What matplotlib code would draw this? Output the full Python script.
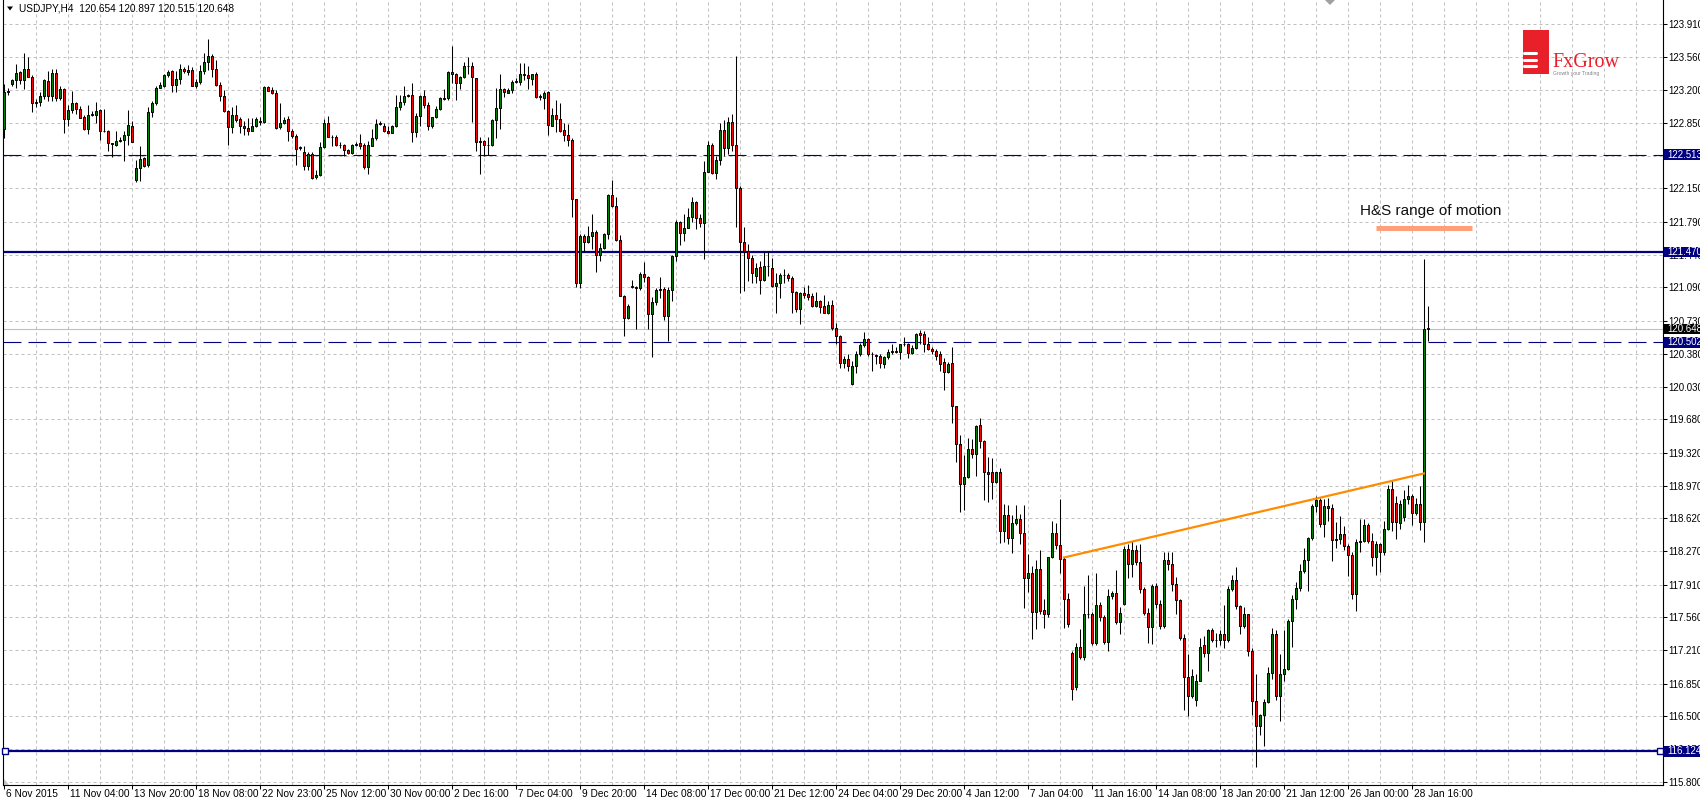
import matplotlib
matplotlib.use("Agg")
import matplotlib.pyplot as plt
import matplotlib.transforms as mtransforms
from matplotlib.patches import Rectangle, Polygon
from matplotlib.lines import Line2D
import numpy as np

# USDJPY H4 candles, one value per bar
opens = [
    122.79, 123.18, 123.27, 123.31, 123.40, 123.31, 123.43, 123.34, 123.06, 123.07,  # 0
    123.14, 123.30, 123.14, 123.39, 123.12, 123.21, 122.89, 122.99, 123.06, 123.00,  # 10
    122.92, 122.79, 122.94, 122.94, 122.99, 122.76, 122.76, 122.64, 122.62, 122.66,  # 20
    122.67, 122.72, 122.82, 122.24, 122.37, 122.48, 122.40, 122.97, 123.06, 123.22,  # 30
    123.25, 123.36, 123.41, 123.26, 123.32, 123.43, 123.42, 123.42, 123.25, 123.29,  # 40
    123.41, 123.50, 123.57, 123.43, 123.26, 123.14, 122.98, 122.81, 122.94, 122.89,  # 50
    122.82, 122.80, 122.77, 122.82, 122.87, 122.86, 123.24, 123.20, 123.17, 122.81,  # 60
    122.85, 122.89, 122.76, 122.71, 122.58, 122.54, 122.39, 122.52, 122.27, 122.29,  # 70
    122.59, 122.85, 122.70, 122.70, 122.61, 122.61, 122.56, 122.53, 122.61, 122.64,  # 80
    122.61, 122.38, 122.60, 122.69, 122.84, 122.82, 122.77, 122.74, 122.82, 123.02,  # 90
    123.07, 123.14, 123.15, 122.75, 122.93, 123.14, 123.04, 122.82, 122.91, 123.00,  # 100
    123.11, 123.12, 123.40, 123.38, 123.28, 123.34, 123.46, 123.46, 123.33, 122.66,  # 110
    122.66, 122.61, 122.61, 122.88, 123.01, 123.21, 123.17, 123.20, 123.29, 123.29,  # 120
    123.38, 123.36, 123.32, 123.38, 123.13, 123.12, 123.18, 122.82, 122.94, 122.89,  # 130
    122.78, 122.72, 122.67, 122.04, 121.14, 121.64, 121.58, 121.64, 121.68, 121.44,  # 140
    121.51, 121.66, 122.08, 121.96, 121.60, 121.00, 120.76, 121.11, 121.09, 121.08,  # 150
    121.23, 121.20, 120.81, 120.93, 121.06, 121.07, 120.79, 121.06, 121.43, 121.79,  # 160
    121.67, 121.73, 121.84, 122.00, 121.83, 121.78, 122.33, 122.62, 122.31, 122.45,  # 170
    122.78, 122.58, 122.86, 122.62, 122.15, 121.58, 121.48, 121.41, 121.21, 121.31,  # 180
    121.17, 121.32, 121.30, 121.11, 121.14, 121.22, 121.22, 121.19, 121.04, 120.86,  # 190
    121.03, 121.02, 121.00, 120.89, 120.95, 120.89, 120.82, 120.90, 120.66, 120.57,  # 200
    120.28, 120.32, 120.06, 120.25, 120.38, 120.47, 120.54, 120.38, 120.37, 120.36,  # 210
    120.27, 120.35, 120.40, 120.41, 120.40, 120.48, 120.49, 120.39, 120.44, 120.60,  # 220
    120.59, 120.49, 120.43, 120.41, 120.38, 120.29, 120.19, 120.28, 119.82, 119.41,  # 230
    118.99, 119.06, 119.36, 119.31, 119.62, 119.45, 119.11, 119.11, 119.01, 119.11,  # 240
    118.48, 118.66, 118.41, 118.57, 118.61, 118.46, 117.98, 118.03, 117.62, 118.08,  # 250
    117.64, 117.59, 118.21, 118.46, 118.33, 118.18, 117.76, 117.18, 116.81, 117.24,  # 260
    117.13, 117.59, 117.60, 117.28, 117.69, 117.56, 117.30, 117.79, 117.82, 117.51,  # 270
    117.70, 118.29, 118.13, 118.28, 118.15, 117.86, 117.61, 117.46, 117.90, 117.70,  # 280
    117.47, 118.17, 118.13, 117.92, 117.75, 117.34, 116.92, 116.72, 116.68, 116.88,  # 290
    117.26, 117.18, 117.42, 117.32, 117.32, 117.38, 117.32, 117.86, 117.96, 117.68,  # 300
    117.47, 117.60, 117.20, 116.66, 116.40, 116.51, 116.65, 116.96, 117.38, 116.72,  # 310
    116.95, 117.01, 117.52, 117.76, 117.87, 118.06, 118.17, 118.41, 118.75, 118.82,  # 320
    118.56, 118.75, 118.73, 118.39, 118.40, 118.45, 118.32, 118.23, 117.81, 118.37,  # 330
    118.38, 118.55, 118.38, 118.21, 118.34, 118.26, 118.50, 118.93, 118.78, 118.57,  # 340
    118.63, 118.83, 118.86, 118.68, 118.77, 118.58, 120.654,                         # 350
]
highs = [
    123.27, 123.22, 123.32, 123.48, 123.41, 123.60, 123.56, 123.36, 123.11, 123.18,
    123.32, 123.41, 123.43, 123.43, 123.25, 123.22, 123.04, 123.19, 123.08, 123.03,
    122.94, 123.04, 122.98, 123.08, 123.00, 123.00, 122.78, 122.64, 122.76, 122.70,
    122.77, 122.99, 122.87, 122.45, 122.60, 122.49, 123.02, 123.09, 123.25, 123.29,
    123.38, 123.42, 123.42, 123.41, 123.48, 123.45, 123.47, 123.45, 123.32, 123.47,
    123.60, 123.75, 123.59, 123.52, 123.29, 123.20, 122.99, 123.02, 123.04, 122.92,
    122.87, 122.90, 122.90, 122.91, 122.91, 123.25, 123.25, 123.24, 123.20, 123.06,
    122.92, 122.93, 122.79, 122.73, 122.60, 122.60, 122.54, 122.54, 122.35, 122.65,
    122.89, 122.93, 122.72, 122.72, 122.65, 122.63, 122.57, 122.63, 122.65, 122.73,
    122.64, 122.66, 122.79, 122.89, 122.87, 122.85, 122.82, 122.83, 123.15, 123.15,
    123.25, 123.16, 123.28, 122.96, 123.15, 123.20, 123.08, 122.92, 123.03, 123.13,
    123.21, 123.41, 123.67, 123.39, 123.35, 123.50, 123.56, 123.50, 123.33, 122.70,
    122.67, 122.70, 122.89, 123.22, 123.38, 123.23, 123.22, 123.31, 123.33, 123.49,
    123.49, 123.46, 123.38, 123.40, 123.16, 123.19, 123.19, 123.01, 123.10, 123.06,
    122.85, 122.84, 122.69, 122.04, 121.66, 121.66, 121.75, 121.88, 121.70, 121.57,
    121.67, 122.09, 122.24, 122.06, 121.65, 121.01, 120.91, 121.17, 121.11, 121.26,
    121.36, 121.21, 120.99, 121.08, 121.20, 121.10, 121.09, 121.44, 121.81, 121.80,
    121.88, 121.94, 122.06, 122.02, 121.88, 122.44, 122.66, 122.64, 122.50, 122.85,
    122.88, 122.92, 122.95, 123.57, 122.18, 121.74, 121.56, 121.44, 121.35, 121.37,
    121.48, 121.48, 121.41, 121.25, 121.25, 121.29, 121.25, 121.21, 121.05, 121.04,
    121.09, 121.12, 121.03, 121.04, 120.96, 121.01, 120.94, 120.96, 120.71, 120.58,
    120.36, 120.38, 120.30, 120.41, 120.50, 120.61, 120.55, 120.40, 120.38, 120.38,
    120.36, 120.43, 120.49, 120.45, 120.49, 120.56, 120.50, 120.47, 120.60, 120.64,
    120.62, 120.56, 120.45, 120.43, 120.41, 120.34, 120.29, 120.45, 119.82, 119.51,
    119.30, 119.48, 119.47, 119.62, 119.69, 119.46, 119.28, 119.27, 119.12, 119.16,
    118.77, 118.76, 118.66, 118.76, 118.67, 118.76, 118.24, 118.11, 118.17, 118.28,
    117.76, 118.21, 118.59, 118.57, 118.83, 118.20, 117.82, 117.20, 117.29, 117.44,
    117.90, 118.01, 117.62, 118.03, 117.72, 117.58, 117.86, 117.84, 118.07, 117.67,
    118.32, 118.34, 118.38, 118.33, 118.34, 117.88, 117.66, 117.92, 117.93, 117.74,
    118.26, 118.26, 118.26, 117.99, 117.76, 117.38, 117.17, 117.01, 116.95, 117.34,
    117.36, 117.44, 117.45, 117.39, 117.42, 117.69, 117.90, 118.01, 118.10, 117.69,
    117.67, 117.60, 117.23, 116.95, 116.53, 116.69, 117.03, 117.45, 117.42, 117.17,
    117.42, 117.54, 117.80, 117.94, 118.13, 118.30, 118.42, 118.77, 118.86, 118.84,
    118.83, 118.84, 118.77, 118.58, 118.64, 118.54, 118.34, 118.26, 118.40, 118.61,
    118.61, 118.57, 118.46, 118.38, 118.36, 118.59, 118.98, 119.03, 118.86, 118.82,
    118.92, 118.98, 118.88, 118.84, 118.96, 121.40, 120.897,
]
lows = [
    122.69, 123.15, 123.25, 123.22, 123.27, 123.21, 123.34, 122.97, 123.02, 123.03,
    123.11, 123.09, 123.09, 123.09, 123.10, 122.74, 122.82, 122.96, 122.95, 122.90,
    122.78, 122.73, 122.93, 122.85, 122.67, 122.75, 122.55, 122.49, 122.60, 122.65,
    122.44, 122.61, 122.65, 122.22, 122.23, 122.38, 122.38, 122.91, 123.04, 123.22,
    123.24, 123.34, 123.18, 123.18, 123.27, 123.39, 123.36, 123.25, 123.22, 123.27,
    123.38, 123.42, 123.34, 123.25, 123.09, 122.97, 122.61, 122.74, 122.86, 122.74,
    122.72, 122.72, 122.76, 122.81, 122.83, 122.85, 123.19, 123.16, 122.79, 122.79,
    122.84, 122.66, 122.69, 122.40, 122.56, 122.35, 122.35, 122.25, 122.25, 122.28,
    122.58, 122.70, 122.60, 122.60, 122.58, 122.50, 122.52, 122.52, 122.60, 122.57,
    122.36, 122.30, 122.60, 122.67, 122.83, 122.75, 122.73, 122.74, 122.81, 122.99,
    123.04, 123.13, 122.65, 122.70, 122.82, 123.01, 122.78, 122.80, 122.90, 122.99,
    123.10, 123.10, 123.28, 123.10, 123.21, 123.33, 123.37, 122.86, 122.55, 122.30,
    122.50, 122.51, 122.60, 122.69, 122.79, 123.13, 123.17, 123.17, 123.28, 123.26,
    123.31, 123.21, 123.26, 123.12, 123.10, 123.00, 122.72, 122.82, 122.75, 122.75,
    122.66, 122.60, 121.84, 121.10, 121.08, 121.47, 121.57, 121.50, 121.26, 121.37,
    121.50, 121.61, 121.95, 121.59, 121.00, 120.57, 120.75, 121.08, 120.65, 121.06,
    121.15, 120.65, 120.35, 120.90, 120.98, 120.74, 120.52, 120.94, 121.37, 121.55,
    121.59, 121.73, 121.79, 121.72, 121.74, 121.40, 122.33, 122.30, 122.25, 122.40,
    122.50, 122.52, 122.55, 121.74, 121.03, 121.05, 121.16, 121.14, 121.14, 121.02,
    121.16, 121.21, 121.09, 120.82, 120.98, 121.14, 121.16, 120.82, 120.83, 120.70,
    120.98, 120.96, 120.88, 120.88, 120.82, 120.82, 120.81, 120.63, 120.48, 120.23,
    120.23, 120.20, 120.05, 120.17, 120.36, 120.45, 120.36, 120.20, 120.27, 120.23,
    120.23, 120.32, 120.38, 120.39, 120.32, 120.46, 120.34, 120.38, 120.43, 120.48,
    120.40, 120.42, 120.38, 120.31, 120.20, 119.99, 120.18, 119.64, 119.22, 118.69,
    118.71, 119.05, 119.27, 119.07, 119.37, 118.82, 118.79, 118.83, 119.00, 118.36,
    118.37, 118.34, 118.25, 118.55, 118.34, 117.66, 117.83, 117.33, 117.43, 117.59,
    117.45, 117.56, 118.19, 118.29, 118.03, 117.45, 117.46, 116.68, 116.78, 117.11,
    117.10, 117.55, 117.26, 117.26, 117.52, 117.27, 117.20, 117.76, 117.49, 117.38,
    117.69, 117.98, 117.99, 118.12, 117.82, 117.58, 117.28, 117.27, 117.66, 117.44,
    117.45, 118.07, 117.84, 117.59, 117.32, 116.57, 116.50, 116.70, 116.61, 116.88,
    117.13, 116.99, 117.30, 117.24, 117.26, 117.23, 117.30, 117.84, 117.65, 117.38,
    117.45, 117.15, 116.51, 115.96, 116.30, 116.18, 116.64, 116.90, 116.68, 116.45,
    116.88, 117.00, 117.24, 117.65, 117.84, 118.03, 117.84, 118.39, 118.69, 118.53,
    118.42, 118.59, 118.16, 118.30, 118.34, 118.28, 118.00, 117.76, 117.63, 118.26,
    118.37, 118.36, 118.11, 118.01, 118.05, 118.23, 118.49, 118.48, 118.40, 118.51,
    118.59, 118.77, 118.55, 118.65, 118.49, 118.37, 120.515,
]
closes = [
    123.18, 123.19, 123.31, 123.39, 123.31, 123.43, 123.34, 123.06, 123.08, 123.14,
    123.31, 123.14, 123.39, 123.12, 123.21, 122.89, 122.99, 123.06, 123.00, 122.90,
    122.79, 122.94, 122.95, 122.98, 122.76, 122.77, 122.64, 122.63, 122.66, 122.67,
    122.72, 122.83, 122.65, 122.37, 122.47, 122.39, 122.97, 123.06, 123.22, 123.26,
    123.36, 123.40, 123.26, 123.32, 123.43, 123.41, 123.40, 123.25, 123.29, 123.41,
    123.50, 123.57, 123.43, 123.26, 123.14, 122.98, 122.81, 122.94, 122.88, 122.82,
    122.80, 122.77, 122.82, 122.89, 122.86, 123.24, 123.19, 123.17, 122.80, 122.85,
    122.88, 122.76, 122.71, 122.57, 122.59, 122.39, 122.52, 122.26, 122.29, 122.59,
    122.85, 122.70, 122.70, 122.61, 122.62, 122.56, 122.53, 122.61, 122.63, 122.60,
    122.38, 122.61, 122.69, 122.84, 122.85, 122.76, 122.74, 122.82, 123.02, 123.08,
    123.14, 123.15, 122.75, 122.93, 123.14, 123.04, 122.82, 122.91, 123.00, 123.12,
    123.12, 123.40, 123.38, 123.28, 123.34, 123.46, 123.46, 123.34, 122.65, 122.65,
    122.61, 122.61, 122.88, 123.01, 123.21, 123.18, 123.20, 123.29, 123.30, 123.38,
    123.36, 123.33, 123.37, 123.13, 123.14, 123.17, 122.83, 122.94, 122.89, 122.77,
    122.72, 122.67, 122.04, 121.14, 121.64, 121.58, 121.64, 121.68, 121.44, 121.51,
    121.66, 122.08, 121.96, 121.60, 121.00, 120.76, 120.89, 121.09, 121.08, 121.23,
    121.20, 120.81, 120.93, 121.06, 121.07, 120.79, 121.06, 121.43, 121.79, 121.67,
    121.73, 121.84, 122.00, 121.83, 121.78, 122.33, 122.62, 122.31, 122.45, 122.78,
    122.58, 122.86, 122.62, 122.15, 121.58, 121.48, 121.41, 121.24, 121.30, 121.17,
    121.32, 121.32, 121.11, 121.14, 121.22, 121.22, 121.19, 121.04, 120.86, 121.03,
    121.01, 120.99, 120.89, 120.95, 120.88, 120.82, 120.90, 120.66, 120.57, 120.28,
    120.32, 120.25, 120.25, 120.38, 120.47, 120.54, 120.38, 120.38, 120.36, 120.28,
    120.35, 120.40, 120.41, 120.40, 120.48, 120.49, 120.39, 120.44, 120.59, 120.58,
    120.49, 120.43, 120.41, 120.36, 120.27, 120.19, 120.27, 119.82, 119.41, 118.99,
    119.06, 119.36, 119.31, 119.61, 119.45, 119.11, 119.09, 119.01, 119.11, 118.48,
    118.66, 118.41, 118.57, 118.61, 118.46, 117.98, 118.03, 117.62, 118.08, 117.63,
    117.59, 118.21, 118.46, 118.33, 118.18, 117.76, 117.49, 116.79, 117.24, 117.13,
    117.59, 117.60, 117.28, 117.69, 117.56, 117.30, 117.79, 117.82, 117.51, 117.61,
    118.29, 118.13, 118.28, 118.15, 117.86, 117.61, 117.46, 117.90, 117.70, 117.47,
    118.17, 118.13, 117.92, 117.74, 117.34, 116.92, 116.72, 116.93, 116.88, 117.24,
    117.18, 117.42, 117.32, 117.32, 117.38, 117.32, 117.86, 117.96, 117.68, 117.47,
    117.60, 117.20, 116.66, 116.40, 116.51, 116.65, 116.96, 117.38, 116.72, 116.95,
    117.01, 117.52, 117.76, 117.87, 118.06, 118.17, 118.41, 118.75, 118.82, 118.56,
    118.75, 118.73, 118.39, 118.40, 118.45, 118.32, 118.23, 117.81, 118.37, 118.38,
    118.55, 118.38, 118.21, 118.34, 118.26, 118.50, 118.93, 118.58, 118.58, 118.77,
    118.83, 118.86, 118.68, 118.77, 118.58, 120.65, 120.648,
]

time_labels = ["6 Nov 2015", "11 Nov 04:00", "13 Nov 20:00", "18 Nov 08:00", "22 Nov 23:00",
               "25 Nov 12:00", "30 Nov 00:00", "2 Dec 16:00", "7 Dec 04:00", "9 Dec 20:00",
               "14 Dec 08:00", "17 Dec 00:00", "21 Dec 12:00", "24 Dec 04:00", "29 Dec 20:00",
               "4 Jan 12:00", "7 Jan 04:00", "11 Jan 16:00", "14 Jan 08:00", "18 Jan 20:00",
               "21 Jan 12:00", "26 Jan 00:00", "28 Jan 16:00"]
price_ticks = [123.910, 123.560, 123.200, 122.850, 122.500, 122.150, 121.790, 121.440,
               121.090, 120.730, 120.380, 120.030, 119.680, 119.320, 118.970, 118.620,
               118.270, 117.910, 117.560, 117.210, 116.850, 116.500, 116.150, 115.800]

dashed_levels = [122.513, 120.502]
solid_levels = [121.470, 116.124]
bid_price = 120.648
neckline_bars = [265, 355]
neckline_prices = [118.20, 119.10]
target_bars = [343, 367]
target_price = 121.73

NAVY = "#000080"
GRID = "#c0c0c0"

plt.rcParams['font.family'] = ['Liberation Sans', 'DejaVu Sans']

W, H = 1700, 800


def fx(px):
    return px / W


def fy(py):
    return 1 - py / H


fig = plt.figure(figsize=(W / 100, H / 100), dpi=100)
ax = fig.add_axes([fx(3), 15 / H, 1660 / W, 785 / H])
ax.set_xlim(-0.25, 414.75)
ax.set_ylim(115.765, 124.167)

# grid (MT4 style: light gray dots)
for v in price_ticks:
    ax.axhline(v, color=GRID, lw=0.72, dashes=(3.0, 3.0), zorder=0)
for b in range(8, 415, 8):
    ax.axvline(b, color=GRID, lw=0.72, dashes=(3.0, 3.0), zorder=0)

# candles
o = np.array(opens)
h = np.array(highs)
l = np.array(lows)
c = np.array(closes)
x = np.arange(len(c))
colors = np.where(c >= o, "#008000", "#ff0000")
ax.vlines(x, l, h, color="black", lw=0.75, zorder=3)
ax.bar(x, np.abs(c - o), bottom=np.minimum(o, c), width=0.55, color=colors,
       edgecolor="black", linewidth=0.7, zorder=4)

# horizontal levels
for v in dashed_levels:
    ax.axhline(v, color=NAVY, lw=0.8, dashes=(16.2, 6.3), zorder=2)
for v in solid_levels:
    ax.axhline(v, color=NAVY, lw=1.6, zorder=2)
ax.axhline(bid_price, color=GRID, lw=0.8, zorder=1)
ax.plot([0.3, 414.0], [solid_levels[1]] * 2, ls="none", marker="s", ms=4,
        mfc="white", mec=NAVY, mew=1.0, zorder=5, clip_on=False)

# neckline + target
ax.plot(neckline_bars, neckline_prices, color="#ff8c00", lw=1.6, zorder=5)
ax.plot(target_bars, [target_price] * 2, color="#ffa07a", lw=3.6,
        solid_capstyle="butt", zorder=5)
ax.text(339, 121.91, "H&S range of motion", fontsize=11, va="center", ha="left",
        color="#101010", zorder=6)

# axes styling
ax.spines["top"].set_visible(False)
for s in ["left", "right", "bottom"]:
    ax.spines[s].set_linewidth(0.8)
ax.yaxis.tick_right()
ax.set_yticks(price_ticks)
ax.set_yticklabels([f"{v:.3f}" for v in price_ticks])
ax.tick_params(axis="y", direction="out", length=3, width=0.75, pad=1.0, labelsize=7)
ax.set_xticks(np.arange(len(time_labels)) * 16)
ax.set_xticklabels(time_labels)
ax.tick_params(axis="x", direction="out", length=2.6, width=0.75, pad=0.6, labelsize=7.3)
shift = mtransforms.ScaledTranslation(1.5 / 100, 0, fig.dpi_scale_trans)
for lbl in ax.get_xticklabels():
    lbl.set_horizontalalignment("left")
    lbl.set_transform(lbl.get_transform() + shift)

# price labels on the right scale
tr = mtransforms.blended_transform_factory(ax.transAxes, ax.transData)
boxed = [(dashed_levels[0], NAVY), (solid_levels[0], NAVY), (bid_price, "black"),
         (dashed_levels[1], NAVY), (solid_levels[1], NAVY)]
for v, col in boxed:
    ax.add_patch(Rectangle((1.0007, v - 0.055), 0.03, 0.11, transform=tr, fc=col,
                           ec="none", clip_on=False, zorder=7))
    ax.text(1 + 4 / 1660, v, f"{v:.3f}", transform=tr, color="white", fontsize=7,
            va="center", ha="left", clip_on=False, zorder=8)

# header
fig.add_artist(Polygon([(fx(7), fy(6.5)), (fx(13), fy(6.5)), (fx(10), fy(10.5))],
                       closed=True, transform=fig.transFigure, fc="black", ec="none"))
fig.text(fx(19), fy(8.5), "USDJPY,H4  120.654 120.897 120.515 120.648",
         fontsize=7.3, va="center", ha="left")

# chart shift marker and corner marker
fig.add_artist(Polygon([(fx(1325), fy(0)), (fx(1335), fy(0)), (fx(1330), fy(5))],
                       closed=True, transform=fig.transFigure, fc="#a0a0a0", ec="none"))
fig.add_artist(Polygon([(fx(4), fy(779)), (fx(4), fy(785)), (fx(9), fy(785))],
                       closed=True, transform=fig.transFigure, fc="#c0c0c0", ec="none"))

# FxGrow logo
fig.add_artist(Rectangle((fx(1523), fy(74)), 26 / W, 44 / H, transform=fig.transFigure,
                         fc="#e8202a", ec="none"))
for yy in [53, 59.5, 66]:
    fig.add_artist(Line2D([fx(1524), fx(1536)], [fy(yy), fy(yy)], transform=fig.transFigure,
                          color="white", lw=2.2, solid_capstyle="round"))
fig.text(fx(1552), fy(67), "FxGrow", family="Liberation Serif", fontsize=14.5,
         color="#e8202a", va="baseline", ha="left")
fig.text(fx(1553), fy(73), "Growth your Trading", fontsize=3.6, color="#808080",
         va="center", ha="left")

fig.savefig("out.png", dpi=100)
